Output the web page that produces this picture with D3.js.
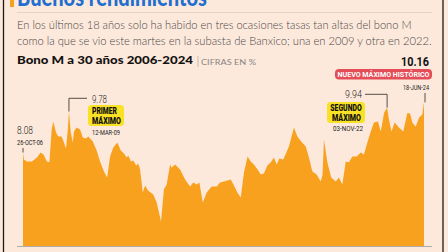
<!DOCTYPE html>
<html>
<head>
<meta charset="utf-8">
<script src="https://cdn.jsdelivr.net/npm/d3@7"></script>
<style>
  html, body { margin: 0; padding: 0; background: #fde9dc; }
  svg { display: block; }
</style>
</head>
<body>
<svg id="chart" width="448" height="252"></svg>
<script>
// fechas en años decimales, tasa del bono M a 30 años (%)
const years = [
  2006.818, 2006.86, 2006.99, 2007.21, 2007.43, 2007.59, 2007.72, 2007.87, 2007.98, 2008.08,
  2008.15, 2008.27, 2008.37, 2008.52, 2008.62, 2008.71, 2008.79, 2008.84, 2008.92, 2009.01,
  2009.06, 2009.18, 2009.33, 2009.45, 2009.59, 2009.69, 2009.89, 2010.06, 2010.21, 2010.38,
  2010.52, 2010.65, 2010.79, 2010.97, 2011.12, 2011.26, 2011.38, 2011.45, 2011.57, 2011.67,
  2011.80, 2011.89, 2011.97, 2012.09, 2012.19, 2012.32, 2012.55, 2012.70, 2012.89, 2013.02,
  2013.14, 2013.29, 2013.36, 2013.51, 2013.73, 2013.95, 2014.17, 2014.31, 2014.46, 2014.58,
  2014.73, 2014.90, 2015.12, 2015.34, 2015.49, 2015.66, 2015.96, 2016.10, 2016.25, 2016.40,
  2016.54, 2016.70, 2016.84, 2016.98, 2017.14, 2017.28, 2017.42, 2017.57, 2017.72, 2017.86,
  2017.98, 2018.10, 2018.27, 2018.52, 2018.74, 2018.89, 2019.06, 2019.26, 2019.40, 2019.55,
  2019.74, 2019.92, 2020.00, 2020.06, 2020.21, 2020.38, 2020.58, 2020.72, 2020.87, 2021.02,
  2021.16, 2021.31, 2021.50, 2021.68, 2021.82, 2021.97, 2022.12, 2022.26, 2022.44, 2022.56,
  2022.71, 2022.84, 2022.92, 2023.03, 2023.17, 2023.36, 2023.55, 2023.73, 2023.85, 2023.95,
  2024.10, 2024.25, 2024.39, 2024.463
];
const rates = [
  8.08, 7.79, 7.71, 7.71, 7.87, 8.08, 8.00, 7.71, 7.67, 9.03,
  9.37, 8.91, 8.74, 8.74, 8.49, 8.25, 9.03, 9.78, 8.91, 8.49,
  8.95, 9.12, 9.03, 8.70, 8.66, 8.74, 8.54, 8.16, 7.71, 7.29,
  7.04, 7.91, 8.29, 8.49, 8.16, 8.04, 7.87, 7.96, 7.71, 7.75,
  7.54, 7.62, 7.37, 6.42, 6.71, 6.50, 6.34, 6.01, 5.22, 6.55,
  6.75, 7.58, 7.46, 7.58, 7.37, 6.96, 6.67, 6.83, 6.75, 6.83,
  6.01, 6.42, 6.67, 6.67, 6.83, 6.88, 6.96, 6.71, 6.42, 6.21,
  7.25, 7.91, 7.71, 7.58, 7.37, 7.17, 7.21, 7.54, 7.67, 7.87,
  7.58, 7.83, 7.79, 8.33, 9.12, 8.74, 8.54, 8.33, 7.87, 7.29,
  7.17, 6.88, 7.17, 8.62, 7.67, 7.04, 6.88, 7.04, 6.75, 7.71,
  7.67, 7.91, 7.91, 8.08, 8.00, 8.49, 8.95, 9.32, 9.37, 8.95,
  9.74, 9.94, 9.45, 8.95, 9.32, 9.12, 8.95, 9.72, 9.70, 9.32,
  9.16, 9.53, 9.66, 10.16
];

const headline = "Buenos rendimientos";
const intro = [
  "En los últimos 18 años solo ha habido en tres ocasiones tasas tan altas del bono M",
  "como la que se vio este martes en la subasta de Banxico; una en 2009 y otra en 2022."
];
const chartTitle = "Bono M a 30 años 2006-2024";
const units = "CIFRAS EN %";
const markDates = ["26-OCT-06", "12-MAR-09", "03-NOV-22", "18-JUN-24"];

const data = d3.zip(years, rates).map(d => ({ t: d[0], v: d[1] }));

const svg = d3.select("#chart");

// escalas
const xScale = d3.scaleLinear()
                 .domain([d3.min(years), d3.max(years)])
                 .range([23, 424]);
const yScale = d3.scaleLinear()
                 .domain([4.2, 10.2])
                 .range([246, 101.4]);

function label(x, y, str, o) {
  const t = svg.append("text")
               .attr("x", x).attr("y", y)
               .attr("font-family", o.font || "Roboto")
               .attr("font-size", o.size)
               .attr("font-weight", o.weight || 400)
               .attr("fill", o.fill || "#222")
               .text(str);
  if (o.anchor) t.attr("text-anchor", o.anchor);
  if (o.width) t.attr("textLength", o.width).attr("lengthAdjust", "spacingAndGlyphs");
  return t;
}

// marco
svg.append("line").attr("x1", 3.5).attr("x2", 3.5).attr("y1", 0).attr("y2", 252)
   .attr("stroke", "#1e1a18").attr("stroke-width", 1.3);
svg.append("line").attr("x1", 443).attr("x2", 443).attr("y1", 0).attr("y2", 252)
   .attr("stroke", "#1e1a18").attr("stroke-width", 1.3);

// cabecera
svg.append("rect").attr("x", 10).attr("y", 0).attr("width", 4).attr("height", 7).attr("fill", "#f5a01e");
label(17, 6, headline, { font: "Lato", size: 25, weight: 900, fill: "#1f6fd0", width: 190 });
svg.append("line").attr("x1", 17).attr("x2", 432).attr("y1", 12.5).attr("y2", 12.5)
   .attr("stroke", "#e6d2c6").attr("stroke-width", 1);
label(17, 29, intro[0], { font: "Lato", size: 11, weight: 300, fill: "#4a4644", width: 394.5 });
label(17, 44.5, intro[1], { font: "Lato", size: 11, weight: 300, fill: "#4a4644", width: 414.5 });

label(17, 64, chartTitle, { font: "Lato", size: 12, weight: 900, fill: "#141210", width: 176 });
label(196.5, 65, "|", { font: "Lato", size: 12, weight: 300, fill: "#8a8582" });
label(201, 64.5, units, { font: "Lato", size: 7.5, weight: 400, fill: "#8a8582", width: 55 });

// área
const area = d3.area()
               .x(d => xScale(d.t))
               .y0(yScale(4.2))
               .y1(d => yScale(d.v));
svg.append("path").datum(data).attr("d", area).attr("fill", "#f8a11f");

svg.append("line").attr("x1", 17).attr("x2", 432).attr("y1", 246.5).attr("y2", 246.5)
   .attr("stroke", "#b3aca6").attr("stroke-width", 1);

// anotaciones
const first = data[0];
const last = data[data.length - 1];
const max1 = data.filter(d => d.t < 2010).reduce((a, b) => b.v > a.v ? b : a);
const max2 = data.filter(d => d.t > 2022 && d.t < 2023).reduce((a, b) => b.v > a.v ? b : a);
const fmt = d3.format(".2f");
const lead = { stroke: "#2a2624", "stroke-width": 0.8, fill: "none" };
function leader(d) {
  const p = svg.append("path").attr("d", d);
  Object.entries(lead).forEach(([k, v]) => p.attr(k, v));
}

// inicio
label(17, 134, fmt(first.v), { size: 10.5, weight: 300, width: 16 });
label(17, 145, markDates[0], { size: 7.5, weight: 400, width: 26 });
leader(`M${xScale(first.t)},148V${yScale(first.v)}`);

// primer máximo
leader(`M87,98.3H${xScale(max1.t)}V${yScale(max1.v)}`);
label(92, 103.3, fmt(max1.v), { size: 10.5, weight: 300, width: 15 });
svg.append("rect").attr("x", 88).attr("y", 105).attr("width", 36).attr("height", 21)
   .attr("rx", 3.5).attr("fill", "#f9e225");
label(92, 114, "PRIMER", { size: 8.5, weight: 900, fill: "#111", width: 25 });
label(92, 124, "MÁXIMO", { size: 8.5, weight: 900, fill: "#111", width: 29 });
label(92, 134.5, markDates[1], { size: 7.5, weight: 400, width: 28 });

// segundo máximo
leader(`M365,94.3H${xScale(max2.t)}V${yScale(max2.v)}`);
label(345, 97.5, fmt(max2.v), { size: 10.5, weight: 300, width: 17 });
svg.append("rect").attr("x", 327).attr("y", 102).attr("width", 38).attr("height", 21)
   .attr("rx", 3.5).attr("fill", "#f9e225");
label(346, 110.5, "SEGUNDO", { size: 8.5, weight: 900, fill: "#111", anchor: "middle", width: 31.5 });
label(346.5, 120.5, "MÁXIMO", { size: 8.5, weight: 900, fill: "#111", anchor: "middle", width: 29 });
label(348, 130.5, markDates[2], { size: 7.5, weight: 400, anchor: "middle", width: 30 });

// máximo histórico
label(429, 66, fmt(last.v), { size: 13.5, weight: 700, fill: "#111", anchor: "end", width: 28 });
svg.append("rect").attr("x", 335).attr("y", 69).attr("width", 97).attr("height", 10.5)
   .attr("rx", 4).attr("fill", "#e44d57");
label(383.5, 77.3, "NUEVO MÁXIMO HISTÓRICO", { size: 8, weight: 700, fill: "#fff", anchor: "middle", width: 92 });
label(429, 89.5, markDates[3], { size: 7.5, weight: 400, anchor: "end", width: 26 });
leader(`M${xScale(last.t) + 1},93V${yScale(last.v)}`);
</script>
</body>
</html>
